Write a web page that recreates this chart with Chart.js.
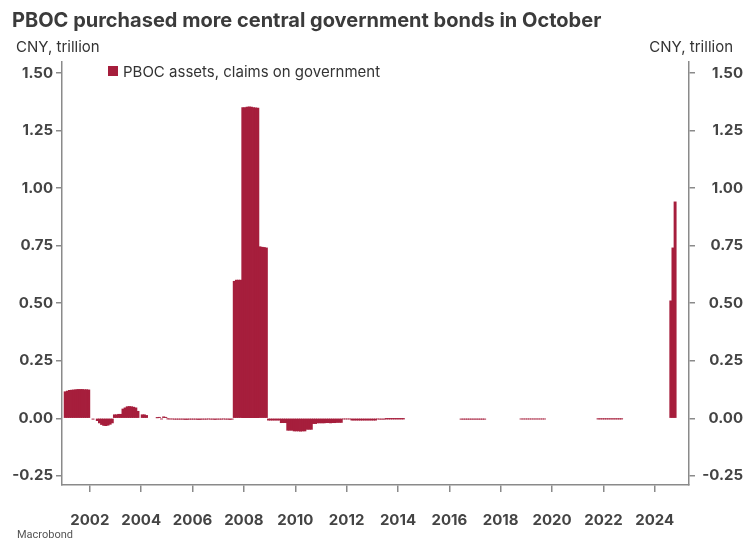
<!DOCTYPE html>
<html>
<head>
<meta charset="utf-8">
<title>PBOC claims on government</title>
<script src="https://cdn.jsdelivr.net/npm/chart.js@4"></script>
<style>
    html, body { margin: 0; padding: 0; background: #fff; }
    #wrap { width: 743px; height: 540px; }
</style>
</head>
<body>
<div id="wrap"><canvas id="claimsChart" width="743" height="540"></canvas></div>
<script>
// monthly values, CNY trillion, starting Jan 2001 (one row per year)
const startYear = 2001;
const claims = [
    0.115, 0.118, 0.121, 0.122, 0.123, 0.124, 0.125, 0.125, 0.125, 0.124, 0.124, 0.123,       // 2001
    0, -0.004, 0, -0.010, -0.020, -0.027, -0.031, -0.032, -0.030, -0.026, -0.020, 0.015,       // 2002
    0.015, 0.017, 0.017, 0.040, 0.045, 0.050, 0.051, 0.050, 0.048, 0.045, 0.030, 0,           // 2003
    0.015, 0.015, 0.012, 0, 0, 0, 0, 0.002, 0.004, -0.003, 0.006, 0.004,                      // 2004
    -0.002, -0.003, -0.003, -0.004, -0.004, -0.004, -0.004, -0.004, -0.005, -0.005, -0.004, -0.004, // 2005
    -0.004, -0.004, -0.005, -0.005, -0.004, -0.004, -0.004, -0.003, -0.004, -0.004, -0.005, -0.004, // 2006
    -0.004, -0.004, -0.003, -0.004, -0.004, -0.005, -0.004, 0.595, 0.600, 0.600, 0.600, 1.350, // 2007
    1.350, 1.352, 1.353, 1.352, 1.350, 1.349, 1.348, 0.745, 0.743, 0.742, 0.740, -0.008,      // 2008
    -0.008, -0.008, -0.008, -0.008, -0.008, -0.019, -0.019, -0.019, -0.052, -0.052, -0.052, -0.055, // 2009
    -0.055, -0.055, -0.056, -0.055, -0.055, -0.048, -0.048, -0.048, -0.023, -0.023, -0.020, -0.020, // 2010
    -0.020, -0.020, -0.019, -0.019, -0.020, -0.019, -0.019, -0.018, -0.018, -0.018, -0.003, -0.003, // 2011
    -0.003, -0.003, -0.008, -0.008, -0.008, -0.008, -0.008, -0.008, -0.008, -0.008, -0.008, -0.008, // 2012
    -0.008, -0.008, -0.003, -0.004, -0.004, -0.004, -0.001, -0.001, -0.001, -0.001, -0.001, -0.001, // 2013
    -0.001, -0.001, -0.001, 0, 0, 0, 0, 0, 0, 0, 0, 0,                                        // 2014
    0, 0, 0, 0, 0, 0, 0, 0, 0, 0, 0, 0,                                                       // 2015
    0, 0, 0, 0, 0, -0.004, -0.004, -0.004, -0.004, -0.004, -0.004, -0.004,                    // 2016
    -0.004, -0.004, -0.004, -0.004, -0.004, 0, 0, 0, 0, 0, 0, 0,                              // 2017
    0, 0, 0, 0, 0, 0, 0, 0, 0, -0.003, -0.003, -0.003,                                        // 2018
    -0.003, -0.003, -0.003, -0.003, -0.003, -0.003, -0.003, -0.003, -0.003, 0, 0, 0,          // 2019
    0, 0, 0, 0, 0, 0, 0, 0, 0, 0, 0, 0,                                                       // 2020
    0, 0, 0, 0, 0, 0, 0, 0, 0, -0.002, -0.002, -0.002,                                        // 2021
    -0.002, -0.002, -0.002, -0.002, -0.002, -0.002, -0.002, -0.002, -0.002, 0, 0, 0,          // 2022
    0, 0, 0, 0, 0, 0, 0, 0, 0, 0, 0, 0,                                                       // 2023
    0, 0, 0, 0, 0, 0, 0, 0.510, 0.740, 0.940                                                  // 2024 (to Oct)
];
const yearTicks = [2002, 2004, 2006, 2008, 2010, 2012, 2014, 2016, 2018, 2020, 2022, 2024];
const valueTicks = [-0.25, 0, 0.25, 0.5, 0.75, 1, 1.25, 1.5];

const barColor = '#a61e3c';
const axisColor = '#8a8a8a';
const textColor = '#444444';

// month centres on a decimal-year axis
const points = claims.map((v, i) => ({ x: startYear + (i + 0.5) / 12, y: v }));

// title, unit labels, legend and source drawn on the canvas
const extraText = {
    id: 'extraText',
    afterDraw(chart) {
        const ctx = chart.ctx;
        ctx.save();
        ctx.fillStyle = '#3b3b3b';
        ctx.textBaseline = 'alphabetic';
        ctx.textAlign = 'left';
        ctx.font = 'bold 20px Inter';
        ctx.fillText('PBOC purchased more central government bonds in October', 12, 27);

        ctx.fillStyle = '#333';
        ctx.font = '15px Inter';
        ctx.fillText('CNY, trillion', 16, 52);
        ctx.textAlign = 'right';
        ctx.fillText('CNY, trillion', 733, 52);

        // legend
        ctx.textAlign = 'left';
        ctx.fillStyle = barColor;
        ctx.fillRect(108, 66, 10, 10);
        ctx.fillStyle = '#333';
        ctx.fillText('PBOC assets, claims on government', 123, 77);

        ctx.fillStyle = '#555';
        ctx.font = '11px Roboto';
        ctx.fillText('Macrobond', 17, 538);
        ctx.restore();
    }
};

const tickFont = { family: 'Inter', weight: 'bold', size: 15 };

new Chart(document.getElementById('claimsChart').getContext('2d'), {
    type: 'bar',
    data: {
        datasets: [{
            label: 'PBOC assets, claims on government',
            data: points,
            backgroundColor: barColor,
            borderWidth: 0,
            barPercentage: 1,
            categoryPercentage: 1,
            inflateAmount: ctx => (ctx.raw && ctx.raw.y === 0 ? 0 : 0.4)
        }]
    },
    options: {
        responsive: false,
        animation: false,
        layout: { padding: { top: 62, left: 0, right: 0, bottom: 0 } },
        plugins: {
            legend: { display: false },
            title: { display: false },
            tooltip: { enabled: false }
        },
        scales: {
            x: {
                type: 'linear',
                offset: false,
                min: 2000.917,
                max: 2025.333,
                grid: { drawOnChartArea: false, drawTicks: true, tickLength: 7, color: axisColor, lineWidth: 1.5, offset: false },
                border: { display: true, color: axisColor, width: 1.5 },
                ticks: {
                    font: tickFont,
                    color: textColor,
                    padding: 19,
                    maxRotation: 0,
                    autoSkip: false,
                    callback: v => String(v)
                },
                afterBuildTicks: s => { s.ticks = yearTicks.map(v => ({ value: v })); },
                afterFit: s => { s.height = 55; }
            },
            y: {
                position: 'left',
                min: -0.29,
                max: 1.548,
                grid: { drawOnChartArea: false, drawTicks: true, tickLength: 6, color: axisColor, lineWidth: 1.5 },
                border: { display: true, color: axisColor, width: 1.5 },
                ticks: { font: tickFont, color: textColor, padding: 3, callback: v => v.toFixed(2) },
                afterBuildTicks: s => { s.ticks = valueTicks.map(v => ({ value: v })); },
                afterFit: s => { s.width = 62; }
            },
            y2: {
                position: 'right',
                min: -0.29,
                max: 1.548,
                grid: { drawOnChartArea: false, drawTicks: true, tickLength: 6, color: axisColor, lineWidth: 1.5 },
                border: { display: true, color: axisColor, width: 1.5 },
                ticks: { font: tickFont, color: textColor, padding: 6, crossAlign: 'far', callback: v => v.toFixed(2) },
                afterBuildTicks: s => { s.ticks = valueTicks.map(v => ({ value: v })); },
                afterFit: s => { s.width = 54; }
            }
        }
    },
    plugins: [extraText]
});
</script>
</body>
</html>
